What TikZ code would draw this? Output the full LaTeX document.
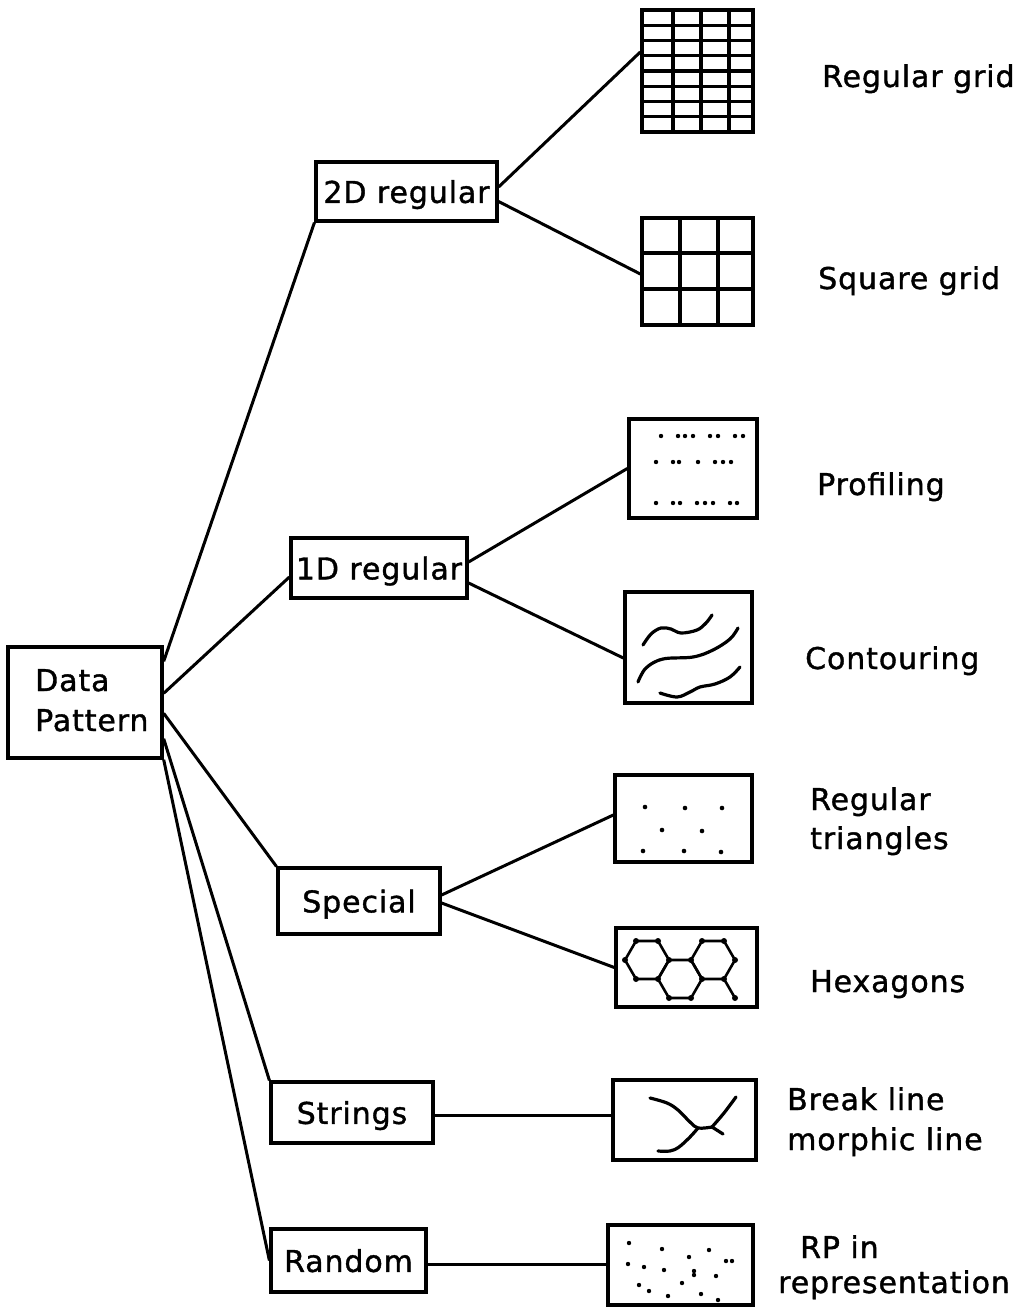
\documentclass[tikz,border=0pt]{standalone}
\usepackage{fontspec}
\setmainfont{DejaVu Sans}[LetterSpace=3.0, FakeBold=1.2]
\begin{document}
\begin{tikzpicture}[x=1pt,y=-1pt,
  every node/.style={font=\fontsize{30}{40}\selectfont},
  catbox/.style={draw, line width=3.2pt, rectangle, inner sep=0pt, text depth=0pt},
  frame/.style={draw, line width=3.4pt, rectangle, inner sep=0pt},
  link/.style={line width=3pt},
  ink/.style={line width=3.2pt, line cap=round, line join=round},
  lbl/.style={anchor=base west, inner sep=0pt},
  dot/.style={fill=black}
]
\useasboundingbox (0,0) rectangle (1033,1308);

% ---- category boxes ----
\node[frame, minimum width=154pt, minimum height=111pt] (dp) at (85,702.5) {};
\node[lbl] (dpa) at (35,691) {Data};
\node[lbl] (dpb) at (35,731) {Pattern};
\node[catbox, minimum width=181pt, minimum height=59pt] (d2) at (406.5,191.5) {2D regular};
\node[catbox, minimum width=176pt, minimum height=60pt] (d1) at (379,568) {1D regular};
\node[catbox, minimum width=162pt, minimum height=66pt] (sp) at (359,901) {Special};
\node[catbox, minimum width=162pt, minimum height=61pt] (st) at (352,1112.5) {Strings};
\node[catbox, minimum width=155pt, minimum height=63pt] (rn) at (348.5,1260.5) {Random};

% ---- sketch frames ----
\node[frame, minimum width=111pt, minimum height=122pt] (rg) at (697.5,71) {};
\node[frame, minimum width=111pt, minimum height=107pt] (sg) at (697.5,271.5) {};
\node[frame, minimum width=128pt, minimum height=99pt] (pf) at (693,468.5) {};
\node[frame, minimum width=127pt, minimum height=111pt] (ct) at (688.5,647.5) {};
\node[frame, minimum width=137pt, minimum height=87pt] (tr) at (683.5,818.5) {};
\node[frame, minimum width=141pt, minimum height=79pt] (hx) at (686.5,967.5) {};
\node[frame, minimum width=143pt, minimum height=80pt] (bl) at (684.5,1120) {};
\node[frame, minimum width=145pt, minimum height=80pt] (rp) at (680.5,1265) {};

% ---- labels ----
\node[lbl] (l1) at (822,87) {Regular grid};
\node[lbl] (l2) at (818,289) {Square grid};
\node[lbl] (l3) at (817,495) {Profiling};
\node[lbl] (l4) at (805,669) {Contouring};
\node[lbl] (l5a) at (810,810) {Regular};
\node[lbl] (l5b) at (810,849) {triangles};
\node[lbl] (l6) at (810,992) {Hexagons};
\node[lbl] (l7a) at (787,1110) {Break line};
\node[lbl] (l7b) at (787,1150) {morphic line};
\node[lbl] (l8a) at (800,1258) {RP in};
\node[lbl] (l8b) at (778,1293) {representation};

% ---- tree connectors ----
\draw[link] ([yshift=-16pt]dp.north east) -- (d2.south west);
\draw[link] ([yshift=-48pt]dp.north east) -- ([yshift=-9pt]d1.west);
\draw[link] ([yshift=-68pt]dp.north east) -- (sp.north west);
\draw[link] ([yshift=21pt]dp.south east) -- (st.north west);
\draw[link] (dp.south east) -- (rn.west);

\draw[link] ([yshift=4.5pt]d2.east) -- ([yshift=19pt]rg.west);
\draw[link] ([yshift=-10pt]d2.east) -- ([yshift=-2.5pt]sg.west);
\draw[link] ([yshift=6pt]d1.east) -- (pf.west);
\draw[link] ([yshift=-15pt]d1.east) -- ([yshift=-10.5pt]ct.west);
\draw[link] ([yshift=6pt]sp.east) -- ([yshift=3.5pt]tr.west);
\draw[link] ([yshift=-2pt]sp.east) -- (hx.west);
\draw[link] ([yshift=-2.5pt]st.east) -- ([yshift=5pt]bl.west);
\draw[link] ([yshift=-3.5pt]rn.east) -- ([yshift=1pt]rp.west);

% ---- regular grid ----
\foreach \x in {673,701,729} \draw[ink] (\x,10) -- (\x,132);
\foreach \k in {1,...,7} \draw[ink] (642,{10+15.25*\k}) -- (753,{10+15.25*\k});

% ---- square grid ----
\foreach \x in {680,718} \draw[ink] (\x,218) -- (\x,325);
\foreach \y in {253,289} \draw[ink] (642,\y) -- (753,\y);

% ---- profiling dots ----
\foreach \x in {661,678,685,693,710,718,735,743} \fill[dot] (\x,436) circle (2.2pt);
\foreach \x in {656,673,679,698,715,723,731} \fill[dot] (\x,462) circle (2.2pt);
\foreach \x in {656,673,680,697,705,713,730,737} \fill[dot] (\x,503) circle (2.2pt);

% ---- contour lines ----
\draw[ink] plot[smooth, tension=0.6] coordinates {(643,645) (651,634) (661,628) (671,629) (681,633) (697,630) (706,623) (712,615)};
\draw[ink] plot[smooth, tension=0.6] coordinates {(638,682) (646,668) (663,659) (693,657) (713,650) (730,639) (738,628)};
\draw[ink] plot[smooth, tension=0.6] coordinates {(660,693) (677,697) (690,692) (700,687) (715,684) (730,677) (740,667)};

% ---- triangle lattice ----
\foreach \p in {(645,807),(685,808),(722,808),(662,830),(702,831),(643,851),(684,851),(721,852)}
  \fill[dot] \p circle (2.3pt);

% ---- hexagons ----
\foreach \cx/\cy in {647/960, 680/979, 713/960}
  \draw[ink, line width=2.6pt] ({\cx+22},\cy) -- ({\cx+11},{\cy-19}) -- ({\cx-11},{\cy-19}) -- ({\cx-22},\cy)
             -- ({\cx-11},{\cy+19}) -- ({\cx+11},{\cy+19}) -- cycle;
\draw[ink, line width=2.6pt] (724,979) -- (735,998);
\foreach \p in {(636,941),(658,941),(625,960),(669,960),(636,979),(658,979),
                (691,960),(702,941),(724,941),(735,960),(702,979),(724,979),
                (669,998),(691,998),(735,998)}
  \fill[dot] \p circle (3pt);

% ---- break / morphic lines ----
\draw[ink] plot[smooth, tension=0.6] coordinates {(650,1098) (667,1103) (678,1110) (690,1122) (698,1128) (712,1127)};
\draw[ink] plot[smooth, tension=0.5] coordinates {(712,1127) (724,1113) (736,1097)};
\draw[ink] (712,1127) -- (723,1134);
\draw[ink] plot[smooth, tension=0.6] coordinates {(698,1128) (690,1137) (679,1147) (670,1151) (658,1151)};

% ---- random points ----
\foreach \p in {(629,1243),(662,1249),(709,1250),(689,1257),(726,1261),(732,1261),
                (628,1264),(644,1267),(664,1270),(694,1271),(694,1275),(716,1276),
                (682,1283),(639,1285),(649,1291),(701,1294),(668,1296),(718,1300)}
  \fill[dot] \p circle (2.2pt);
\end{tikzpicture}
\end{document}
